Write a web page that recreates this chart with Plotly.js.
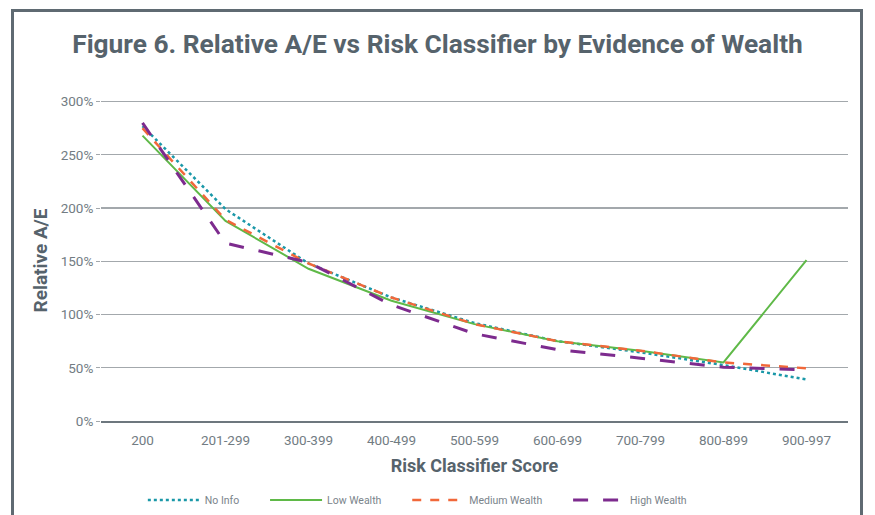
<!DOCTYPE html>
<html>
<head>
<meta charset="utf-8">
<script src="https://cdn.plot.ly/plotly-3.0.1.min.js"></script>
<style>
  html, body { margin: 0; padding: 0; background: #ffffff; overflow: hidden; }
  #wrap { position: relative; width: 875px; height: 515px; }
  #frame { position: absolute; left: 11px; top: 9px; width: 846px; height: 530px;
           border: 3px solid #5f6a72; pointer-events: none; z-index: 5; }
  #chart { position: absolute; left: 0; top: 0; width: 875px; height: 515px; }
</style>
</head>
<body>
<div id="wrap">
  <div id="chart"></div>
  <div id="frame"></div>
</div>
<script>
const categories = ["200", "201-299", "300-399", "400-499", "500-599", "600-699", "700-799", "800-899", "900-997"];
const noInfo       = [2.77, 1.99, 1.48, 1.16, 0.92, 0.75, 0.645, 0.525, 0.39];
const lowWealth    = [2.68, 1.88, 1.43, 1.13, 0.91, 0.75, 0.66, 0.55, 1.51];
const mediumWealth = [2.75, 1.89, 1.48, 1.16, 0.91, 0.75, 0.66, 0.55, 0.495];
const highWealth   = [2.80, 1.67, 1.49, 1.09, 0.82, 0.67, 0.59, 0.505, 0.48];
const seriesNames  = ["No Info", "Low Wealth", "Medium Wealth", "High Wealth"];
const yTickVals    = [0, 0.5, 1, 1.5, 2, 2.5, 3];

// trailing non-breaking spaces widen the gap between legend entries
const pad = "\u00a0".repeat(8);

const traces = [
  { x: categories, y: noInfo, name: seriesNames[0] + pad, type: "scatter", mode: "lines",
    line: { color: "#1a98a8", width: 2.5, dash: "dot" } },
  { x: categories, y: lowWealth, name: seriesNames[1] + pad, type: "scatter", mode: "lines",
    line: { color: "#5fb948", width: 2 } },
  { x: categories, y: mediumWealth, name: seriesNames[2] + pad, type: "scatter", mode: "lines",
    line: { color: "#f1683a", width: 2.5, dash: "dash" } },
  { x: categories, y: highWealth, name: seriesNames[3], type: "scatter", mode: "lines",
    line: { color: "#7d2b8e", width: 3, dash: "longdash" } }
];

const layout = {
  width: 875, height: 515,
  margin: { l: 101, r: 27, t: 100, b: 94, autoexpand: false },
  paper_bgcolor: "#ffffff", plot_bgcolor: "#ffffff",
  font: { family: "Roboto, 'Liberation Sans', sans-serif", color: "#6b767e" },
  title: {
    text: "Figure 6. Relative A/E vs Risk Classifier by Evidence of Wealth",
    font: { family: "Roboto, sans-serif", size: 26.3, color: "#56636c", weight: "bold" },
    x: 0.5, xref: "container", xanchor: "center",
    y: 1 - 44 / 515, yref: "container", yanchor: "middle"
  },
  xaxis: {
    type: "category", range: [-0.5, 8.5],
    showgrid: false, zeroline: false,
    showline: true, linecolor: "#6d777e", linewidth: 1.5,
    ticks: "outside", ticklen: 6, tickcolor: "rgba(0,0,0,0)",
    tickfont: { size: 13.5, color: "#727c83" },
    title: { text: "Risk Classifier Score", standoff: 12,
             font: { size: 18, color: "#56636c", weight: "bold" } },
    fixedrange: true
  },
  yaxis: {
    range: [0, 3.015], tickvals: yTickVals, tickformat: ".0%",
    showgrid: true, gridcolor: "#a3a8ac", gridwidth: 1.3,
    zeroline: false, showline: false,
    ticks: "outside", ticklen: 4, tickcolor: "#a3a8ac",
    tickfont: { size: 13.5, color: "#727c83" },
    title: { text: "Relative A/E", standoff: 7,
             font: { size: 19, color: "#56636c", weight: "bold" } },
    fixedrange: true
  },
  showlegend: true,
  legend: {
    orientation: "h", x: 0.056, xanchor: "left", y: -0.246, yanchor: "middle",
    font: { size: 10.5, color: "#7a848b" }, bgcolor: "rgba(0,0,0,0)",
    itemwidth: 52, tracegroupgap: 0
  }
};

Plotly.newPlot("chart", traces, layout, { displayModeBar: false, staticPlot: true });
</script>
</body>
</html>
